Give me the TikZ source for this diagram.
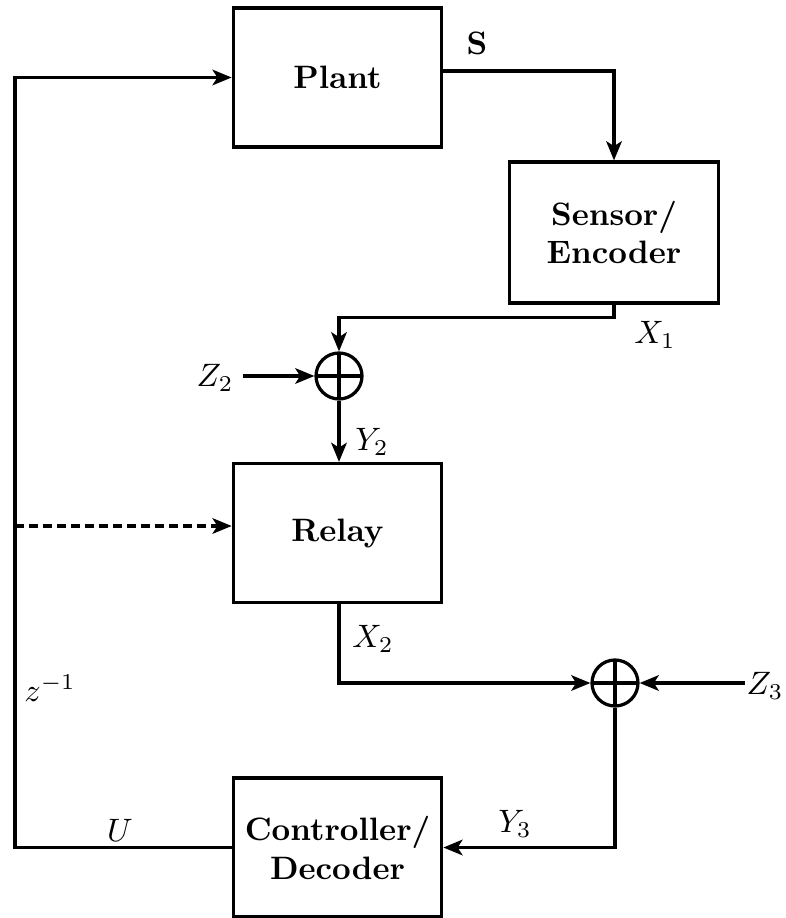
\documentclass[tikz,border=0pt]{standalone}
\usetikzlibrary{arrows.meta}
\begin{document}
\begin{tikzpicture}[x=0.30864pt,y=-0.30864pt,
  blk/.style={draw, line width=1pt, minimum width=64.35pt, minimum height=42.9pt, align=center, inner sep=0pt, font=\normalsize\bfseries},
  sum/.style={draw, circle, line width=1pt, minimum size=14.2pt, inner sep=0pt,
    path picture={\draw[line width=1pt] (path picture bounding box.north) -- (path picture bounding box.south) (path picture bounding box.west) -- (path picture bounding box.east);}},
  arr/.style={line width=1pt, -{Stealth[length=5.9pt,width=4.8pt,inset=1.5pt]}},
  lbl/.style={font=\normalsize, inner sep=0pt}]
\useasboundingbox (0,0) rectangle (786,918);
% blocks
\node[blk] (plant) at (337.5,77.5) {Plant};
\node[blk, minimum height=43.5pt] (sensor) at (614,232.5) {Sensor/\\Encoder};
\node[blk] (relay) at (337.5,533) {Relay};
\node[blk] (ctrl) at (337.5,847.5) {Controller/\\Decoder};
\node[sum] (s1) at (339,376) {};
\node[sum] (s2) at (615,683) {};
% free ends
\coordinate (z2in) at (243,376);
\coordinate (z3in) at (745,683);
\coordinate (lb) at (15,847.5);
\coordinate (lt) at (15,77.5);
\coordinate (ld) at (15,526);
% connectors
\draw[arr] ([yshift=2pt]plant.east) -| (sensor.north);
\draw[arr] (sensor.south) -- ++(0,13) -| (s1.north);
\draw[arr] (z2in) -- (s1.west);
\draw[arr] (s1.south) -- (s1.south |- relay.north);
\draw[arr] (relay.south -| s1.south) |- (s2.west);
\draw[arr] (z3in) -- (s2.east);
\draw[arr] (s2.south) |- (ctrl.east);
\draw[arr] (ctrl.west) -- (lb) -- (lt) -- (plant.west);
\draw[arr, dash pattern=on 2.78pt off 1.54pt] (ld) -- (ld -| relay.west);
% labels
\node[lbl] (lS) at (477,43) {\textbf{S}};
\node[lbl] (lX1) at (655,335) {$X_1$};
\node[lbl] (lZ2) at (215,378) {$Z_2$};
\node[lbl] (lY2) at (372,442) {$Y_2$};
\node[lbl] (lX2) at (373,639) {$X_2$};
\node[lbl] (lZ3) at (765,686) {$Z_3$};
\node[lbl] (lY3) at (515,824) {$Y_3$};
\node[lbl] (lU) at (120,830) {$U$};
\node[lbl] (lz) at (50,688) {$z^{-1}$};
\end{tikzpicture}
\end{document}
